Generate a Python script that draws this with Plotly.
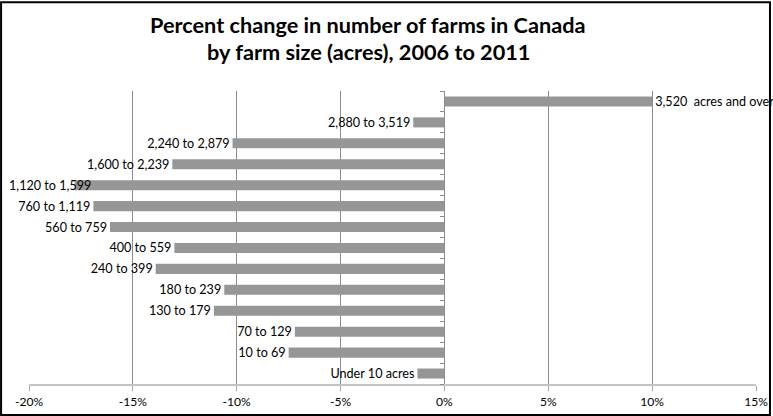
import plotly.graph_objects as go

categories = ["Under 10 acres", "10 to 69", "70 to 129", "130 to 179", "180 to 239",
              "240 to 399", "400 to 559", "560 to 759", "760 to 1,119", "1,120 to 1,599",
              "1,600 to 2,239", "2,240 to 2,879", "2,880 to 3,519", "3,520  acres and over"]
values = [-1.3, -7.5, -7.2, -11.1, -10.6, -13.9, -13.0, -16.1, -16.9, -17.8,
          -13.1, -10.2, -1.5, 10.0]
tick_vals = [-20, -15, -10, -5, 0, 5, 10, 15]
tick_text = ["-20%", "-15%", "-10%", "-5%", "0%", "5%", "10%", "15%"]
title_lines = ["Percent change in number of farms in Canada",
               "by farm size (acres), 2006 to 2011"]

# design coordinates (target picture 773x416); the capture shrinks the page slightly,
# so the figure is laid out on a slightly larger canvas
W0, H0 = 773, 416
SX, SY = 780 / 773, 421 / 416
W, H = round(W0 * SX), round(H0 * SY)
L, R, T, B = 29 * SX, 15 * SX, 90 * SY, 32 * SY
R = W - L - 729 * SX
FONT = "Lato"
pw = W - L - R
ph = H - T - B

SHIFTED = "1,120 to 1,599"
bar_text = [("" if c == SHIFTED else c) for c in categories]

fig = go.Figure(go.Bar(
    x=values, y=categories, orientation="h",
    marker=dict(color="#969696", line=dict(width=0)),
    text=bar_text, textposition="outside", constraintext="none",
    cliponaxis=False, textfont=dict(family=FONT, size=12.5 * SX, color="#000000"),
    width=0.48,
))

fig.add_annotation(text=SHIFTED, showarrow=False, xref="paper", yref="y",
                   x=(7 * SX - L) / pw, y=SHIFTED, xanchor="left", yanchor="middle",
                   font=dict(family=FONT, size=12.5 * SX, color="#000000"))

fig.add_shape(type="rect", xref="paper", yref="paper",
              x0=(1 - L) / pw, x1=(W - 1 - L) / pw,
              y0=(1 - B) / ph, y1=(H - 1 - B) / ph,
              line=dict(color="#000000", width=2), layer="above")

for i, line in enumerate(title_lines):
    yc = (24 + 27 * i) * SY
    fig.add_annotation(text="<b>" + line + "</b>", showarrow=False,
                       xref="paper", yref="paper",
                       x=(369 * SX - L) / pw, y=(H - B - yc) / ph,
                       xanchor="center", yanchor="middle",
                       font=dict(family=FONT, size=21.5 * SX, color="#000000"))

fig.update_layout(
    width=W, height=H,
    margin=dict(l=L, r=R, t=T, b=B, pad=0),
    paper_bgcolor="white", plot_bgcolor="white",
    showlegend=False,
    xaxis=dict(range=[-20, 15], tickvals=tick_vals, ticktext=tick_text,
               showgrid=True, gridcolor="#8c8c8c", gridwidth=1,
               zeroline=False, showline=True, linecolor="#c4c4c4", linewidth=2,
               ticks="outside", ticklen=5, tickcolor="#a6a6a6",
               tickfont=dict(family=FONT, size=12 * SX, color="#000000")),
    yaxis=dict(categoryorder="array", categoryarray=categories,
               anchor="free", position=20 / 35, showticklabels=False,
               showline=True, linecolor="#8c8c8c", linewidth=1,
               ticks="outside", ticklen=4, tickcolor="#8c8c8c",
               tickson="boundaries", showgrid=False, zeroline=False),
)

post = ("document.documentElement.style.margin='0';"
        "document.body.style.margin='0';")
fig.write_html("out.html", config={"displayModeBar": False}, post_script=post)
